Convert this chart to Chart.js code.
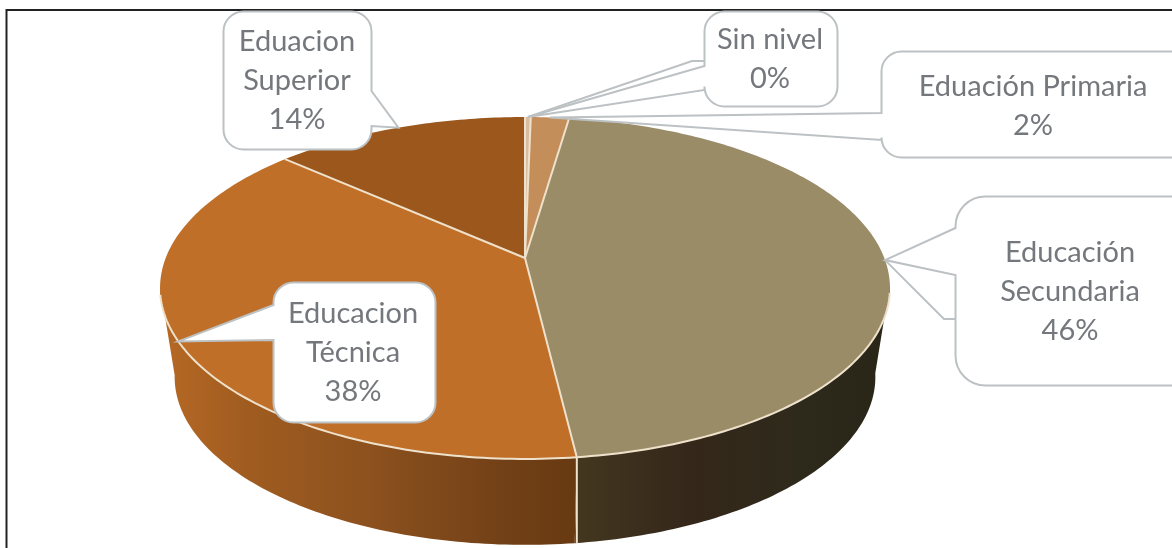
<!DOCTYPE html>
<html>
<head>
<meta charset="utf-8">
<style>
  html, body { margin: 0; padding: 0; background: #fff; overflow: hidden; }
</style>
</head>
<body>
<canvas id="chart1" width="1172" height="548"></canvas>
<script src="https://cdn.jsdelivr.net/npm/chart.js@4/dist/chart.umd.min.js"></script>
<script>
var categories = ["Sin nivel", "Eduación Primaria", "Educación Secundaria", "Educacion Técnica", "Eduacion Superior"];
var values = [0.3, 2, 45.8, 38.5, 13.4];
var percentLabels = ["0%", "2%", "46%", "38%", "14%"];
var labelLines = [["Sin nivel"], ["Eduación Primaria"], ["Educación", "Secundaria"], ["Educacion", "Técnica"], ["Eduacion", "Superior"]];
var topColors = ["#dcbca0", "#c48e5a", "#9b8c68", "#c06f28", "#9c581c"];

// tilted disc: centre of the pie, and the perspective factor
var tilt = { x: 525, y: 258, a: 359.3, b: 165.7, t: -0.1754 };
var wall = { scaleX: 0.96, scaleY: 0.982, ellipseY: 288, bottomY: 377 };
var edgeColor = "#efe2cc";

// callout boxes, same order as categories
var callouts = [
  { x: 704.5, y: 11.5, w: 133, h: 95, r: 20, side: "left", base: [66, 90], textX: 770, textY: 40, elbow: [692, 61, 704, 61] },
  { x: 881.5, y: 51.5, w: 330, h: 106, r: 20, side: "left", base: [113, 140], textX: 1033, textY: 87 },
  { x: 955.5, y: 196.5, w: 250, h: 189, r: 30, side: "left", base: [228, 275], textX: 1070, textY: 253, elbow: [944, 319, 955, 319] },
  { x: 273.5, y: 282.5, w: 162, h: 140, r: 20, side: "left", base: [305, 340], textX: 353, textY: 314 },
  { x: 223.5, y: 11.5, w: 148, h: 138, r: 20, side: "right", base: [91, 126], textX: 297, textY: 42 }
];

function topPoint(angle) {
  var u = Math.cos(angle), v = Math.sin(angle), w = 1 + tilt.t * v;
  return { x: tilt.x + tilt.a * u / w, y: tilt.y + tilt.b * v / w };
}

function bottomPoint(angle) {
  var p = topPoint(angle);
  return { x: tilt.x + (p.x - tilt.x) * wall.scaleX, y: wall.bottomY + (p.y - wall.ellipseY) * wall.scaleY };
}

function rimAngles(arc) {
  var list = [], n = Math.max(2, Math.ceil((arc.endAngle - arc.startAngle) * 60));
  for (var i = 0; i <= n; i++) list.push(arc.startAngle + (arc.endAngle - arc.startAngle) * i / n);
  return list;
}

function wallGradient(ctx, index) {
  var g;
  if (index == 2) {
    g = ctx.createLinearGradient(577, 0, 890, 0);
    g.addColorStop(0, "#44371f");
    g.addColorStop(0.35, "#35271a");
    g.addColorStop(0.7, "#2e2a1b");
    g.addColorStop(1, "#2a2617");
  } else {
    g = ctx.createLinearGradient(165, 0, 577, 0);
    g.addColorStop(0, "#b56824");
    g.addColorStop(0.2, "#a05c20");
    g.addColorStop(0.5, "#8c511e");
    g.addColorStop(0.85, "#703f16");
    g.addColorStop(1, "#683a12");
  }
  return g;
}

function drawCallout(ctx, c, tip, i) {
  var x = c.x, y = c.y, w = c.w, h = c.h, r = c.r;
  ctx.beginPath();
  ctx.moveTo(x + r, y);
  ctx.lineTo(x + w - r, y);
  ctx.arcTo(x + w, y, x + w, y + r, r);
  if (c.side == "right") {
    ctx.lineTo(x + w, c.base[0]);
    ctx.lineTo(tip.x, tip.y);
    ctx.lineTo(x + w, c.base[1]);
  }
  ctx.lineTo(x + w, y + h - r);
  ctx.arcTo(x + w, y + h, x + w - r, y + h, r);
  ctx.lineTo(x + r, y + h);
  ctx.arcTo(x, y + h, x, y + h - r, r);
  if (c.side == "left") {
    ctx.lineTo(x, c.base[1]);
    ctx.lineTo(tip.x, tip.y);
    ctx.lineTo(x, c.base[0]);
  }
  ctx.lineTo(x, y + r);
  ctx.arcTo(x, y, x + r, y, r);
  ctx.closePath();
  ctx.fillStyle = "#fff";
  ctx.fill();
  ctx.strokeStyle = "#bcc1c4";
  ctx.lineWidth = 2;
  ctx.stroke();

  if (c.elbow) {
    ctx.beginPath();
    ctx.moveTo(tip.x, tip.y);
    ctx.lineTo(c.elbow[0], c.elbow[1]);
    ctx.lineTo(c.elbow[2], c.elbow[3]);
    ctx.stroke();
  }

  // label text
  ctx.fillStyle = "#74777c";
  ctx.font = "29px Lato";
  ctx.textAlign = "center";
  ctx.textBaseline = "middle";
  var lines = labelLines[i].concat(percentLabels[i]);
  for (var k = 0; k < lines.length; k++) {
    ctx.fillText(lines[k], c.textX, c.textY + k * 39);
  }
}

// Chart.js pies are flat circles, so the arcs are projected here
var tiltedPie = {
  id: "tiltedPie",
  beforeDatasetsDraw: function (chart) {
    var ctx = chart.ctx;
    var arcs = chart.getDatasetMeta(0).data;
    var i, k, pts, p;
    ctx.save();

    // frame
    ctx.strokeStyle = "#222";
    ctx.lineWidth = 2;
    ctx.beginPath();
    ctx.moveTo(6.5, 548);
    ctx.lineTo(6.5, 10);
    ctx.lineTo(1172, 10);
    ctx.stroke();

    // side wall, only the part that faces the viewer
    for (i = 0; i < arcs.length; i++) {
      pts = rimAngles(arcs[i]).filter(function (a) { return Math.sin(a) > 0.15; });
      if (pts.length < 2) continue;
      ctx.beginPath();
      for (k = 0; k < pts.length; k++) {
        p = topPoint(pts[k]);
        ctx.lineTo(p.x, p.y);
      }
      for (k = pts.length - 1; k >= 0; k--) {
        p = bottomPoint(pts[k]);
        ctx.lineTo(p.x, p.y);
      }
      ctx.closePath();
      ctx.fillStyle = wallGradient(ctx, i);
      ctx.fill();
    }

    // top faces
    for (i = 0; i < arcs.length; i++) {
      pts = rimAngles(arcs[i]);
      ctx.beginPath();
      ctx.moveTo(tilt.x, tilt.y);
      for (k = 0; k < pts.length; k++) {
        p = topPoint(pts[k]);
        ctx.lineTo(p.x, p.y);
      }
      ctx.closePath();
      ctx.fillStyle = topColors[i];
      ctx.fill();
    }

    // pale edges
    ctx.strokeStyle = edgeColor;
    ctx.lineWidth = 2;
    for (i = 0; i < arcs.length; i++) {
      p = topPoint(arcs[i].startAngle);
      ctx.beginPath();
      ctx.moveTo(tilt.x, tilt.y);
      ctx.lineTo(p.x, p.y);
      ctx.stroke();

      if (Math.sin(arcs[i].startAngle) > 0.2) {
        var low = bottomPoint(arcs[i].startAngle);
        ctx.beginPath();
        ctx.moveTo(p.x, p.y);
        ctx.lineTo(p.x, low.y);
        ctx.stroke();
      }

      pts = rimAngles(arcs[i]);
      ctx.beginPath();
      for (k = 0; k < pts.length; k++) {
        if (Math.sin(pts[k]) > 0.2) {
          p = topPoint(pts[k]);
          ctx.lineTo(p.x, p.y);
        }
      }
      ctx.stroke();
    }

    // callouts point to the middle of their slice
    for (i = 0; i < arcs.length; i++) {
      var tip = topPoint((arcs[i].startAngle + arcs[i].endAngle) / 2);
      drawCallout(ctx, callouts[i], tip, i);
    }

    ctx.restore();
    return false;
  }
};

var ctx = document.getElementById('chart1').getContext('2d');
var chart = new Chart(ctx, {
  type: 'pie',
  data: {
    labels: categories,
    datasets: [{
      data: values,
      backgroundColor: topColors,
      borderColor: edgeColor
    }]
  },
  options: {
    responsive: false,
    animation: false,
    plugins: {
      legend: { display: false },
      tooltip: { enabled: false }
    }
  },
  plugins: [tiltedPie]
});
</script>
</body>
</html>
